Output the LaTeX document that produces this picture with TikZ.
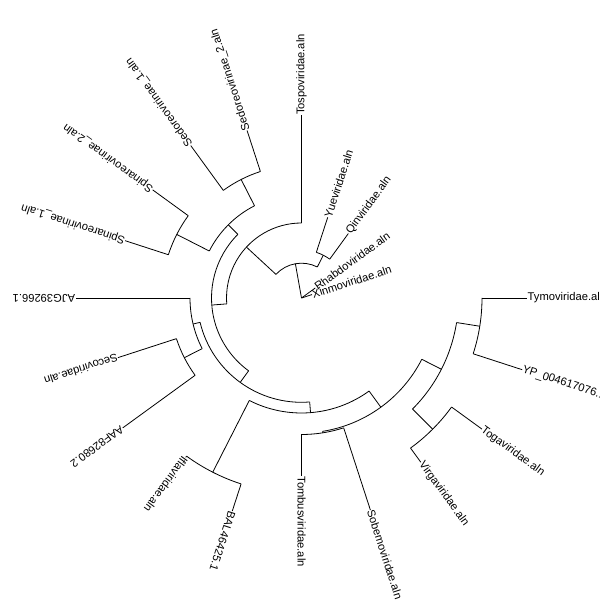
\documentclass[tikz,border=0pt]{standalone}
\usepackage{fontspec}
\setmainfont{Liberation Sans}
\usepackage{tikz}

\begin{document}
\begin{tikzpicture}[x=1pt,y=1pt,line width=0.8pt,
        tipLabel/.style={anchor=west,inner sep=0.5pt,outer sep=0pt,font=\fontsize{11.2}{12}\selectfont}]
        \newcommand\drawArc[3]{\draw (#2:#1) arc[start angle=#2,end angle=#3,radius=#1]}
        \newcommand\drawBranch[3]{\draw (#1:#2) -- (#1:#3)}
        \useasboundingbox (0,0) rectangle (600,600);
        \clip (0,0) rectangle (600,600);
        \begin{scope}[shift={(301.5,302)}]
        \coordinate (root) at (0,0);
        \draw (100.125:34.8) -- (root);
        \drawArc{34.8}{63}{137.25};
        \drawBranch{63}{34.8}{48};
        \drawArc{48}{54}{72};
        \drawBranch{137.25}{34.8}{75};
        \drawArc{75}{90}{184.5};
        \drawBranch{184.5}{75}{90};
        \drawArc{90}{135}{234};
        \drawBranch{135}{90}{103.5};
        \drawArc{103.5}{117}{153};
        \drawBranch{117}{103.5}{133};
        \drawArc{133}{108}{126};
        \drawBranch{153}{103.5}{140};
        \drawArc{140}{144}{162};
        \drawBranch{234}{90}{104.3};
        \drawArc{104.3}{193.5}{274.5};
        \drawBranch{193.5}{104.3}{111.5};
        \drawArc{111.5}{180}{207};
        \drawBranch{207}{111.5}{131.5};
        \drawArc{131.5}{198}{216};
        \drawBranch{274.5}{104.3}{115};
        \drawArc{115}{243}{306};
        \drawBranch{243}{115}{195.5};
        \drawArc{195.5}{234}{252};
        \drawBranch{306}{115}{135};
        \drawArc{135}{279}{333};
        \drawBranch{279}{135}{136.5};
        \drawArc{136.5}{270}{288};
        \drawBranch{333}{135}{157};
        \drawArc{157}{315}{351};
        \drawBranch{315}{157}{185.5};
        \drawArc{185.5}{306}{324};
        \drawBranch{351}{157}{180.5};
        \drawArc{180.5}{342}{360};

        \node[tipLabel,rotate=0] (tymo) at (0:225.7) {Tymoviridae.aln};
        \node[tipLabel,rotate=18] (xinmo) at (18:11) {Xinmoviridae.aln};
        \node[tipLabel,rotate=36] (rhabdo) at (36:17) {Rhabdoviridae.aln};
        \node[tipLabel,rotate=54] (qin) at (54:79.7) {Qinviridae.aln};
        \node[tipLabel,rotate=72] (yue) at (72:84.8) {Yueviridae.aln};
        \node[tipLabel,rotate=90] (tospo) at (90:182.5) {Tospoviridae.aln};
        \node[tipLabel,rotate=108] (sedo2) at (108:176) {Sedoreovirinae\_2.aln};
        \node[tipLabel,rotate=126] (sedo1) at (126:188.4) {Sedoreovirinae\_1.aln};
        \node[tipLabel,rotate=144] (spina2) at (144:184) {Spinareovirinae\_2.aln};
        \node[tipLabel,rotate=162] (spina1) at (162:185.4) {Spinareovirinae\_1.aln};
        \node[tipLabel,rotate=180] (ajg) at (180:226) {AJG39266.1};
        \node[tipLabel,rotate=198] (seco) at (198:193) {Secoviridae.aln};
        \node[tipLabel,rotate=216] (aaf) at (216:221) {AAF82680.2};
        \node[tipLabel,rotate=234] (ifla) at (234:197) {Iflaviridae.aln};
        \node[tipLabel,rotate=252] (bal) at (252:224) {BAL46425.1};
        \node[tipLabel,rotate=270] (tombus) at (270:178) {Tombusviridae.aln};
        \node[tipLabel,rotate=288] (sobemo) at (288:223) {Sobemoviridae.aln};
        \node[tipLabel,rotate=306] (virga) at (306:203) {Virgaviridae.aln};
        \node[tipLabel,rotate=324] (toga) at (324:223) {Togaviridae.aln};
        \node[tipLabel,rotate=342] (yp) at (342:232) {YP\_004617076.1};

        \draw (0:180.5) -- (tymo.west);
        \draw (root) -- (xinmo.west);
        \draw (root) -- (rhabdo.west);
        \draw (54:48) -- (qin.west);
        \draw (72:48) -- (yue.west);
        \draw (90:75) -- (tospo.west);
        \draw (108:133) -- (sedo2.west);
        \draw (126:133) -- (sedo1.west);
        \draw (144:140) -- (spina2.west);
        \draw (162:140) -- (spina1.west);
        \draw (180:111.5) -- (ajg.west);
        \draw (198:131.5) -- (seco.west);
        \draw (216:131.5) -- (aaf.west);
        \draw (234:195.5) -- (ifla.west);
        \draw (252:195.5) -- (bal.west);
        \draw (270:136.5) -- (tombus.west);
        \draw (288:136.5) -- (sobemo.west);
        \draw (306:185.5) -- (virga.west);
        \draw (324:185.5) -- (toga.west);
        \draw (342:180.5) -- (yp.west);
        \end{scope}
\end{tikzpicture}
\end{document}
